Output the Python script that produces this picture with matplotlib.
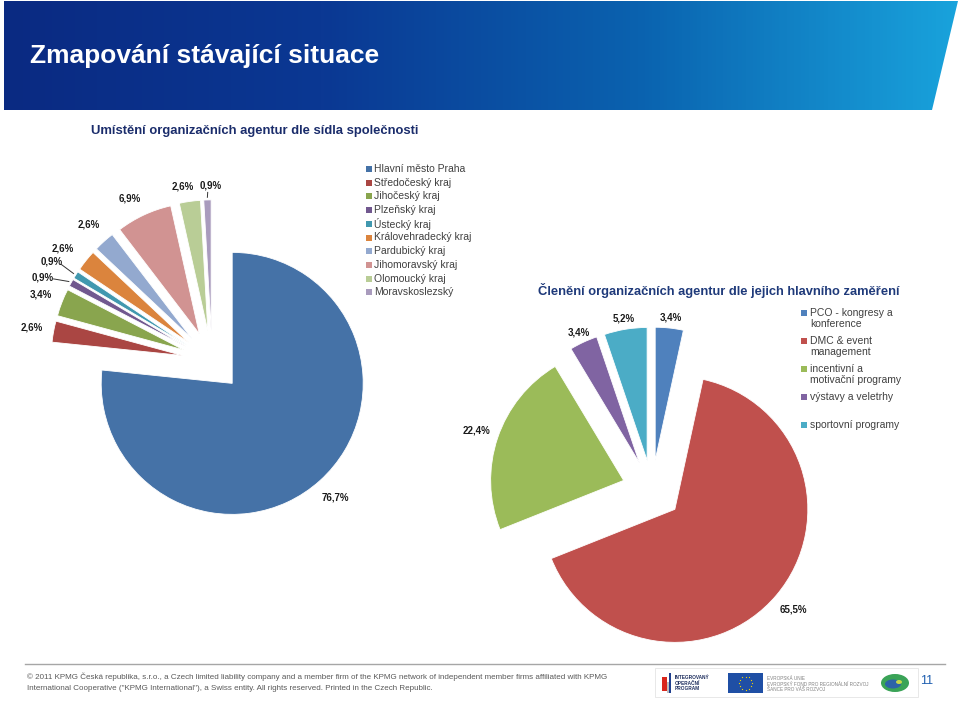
import numpy as np
import matplotlib.pyplot as plt
from matplotlib.patches import Polygon, Rectangle, Ellipse
from matplotlib.colors import LinearSegmentedColormap

plt.rcParams['font.family'] = ['Liberation Sans', 'DejaVu Sans']

# data - kraje
kraje = ['Hlavní město Praha', 'Středočeský kraj', 'Jihočeský kraj', 'Plzeňský kraj',
         'Ústecký kraj', 'Královehradecký kraj', 'Pardubický kraj', 'Jihomoravský kraj',
         'Olomoucký kraj', 'Moravskoslezský']
podil_kraje = [76.7, 2.6, 3.4, 0.9, 0.9, 2.6, 2.6, 6.9, 2.6, 0.9]
barvy_kraje = ['#4572A7', '#AA4643', '#89A54E', '#71588F', '#4198AF',
               '#DB843D', '#93A9CF', '#D19392', '#B9CD96', '#A99BBD']

# data - zamereni
zamereni = ['PCO - kongresy a\nkonference', 'DMC & event\nmanagement',
            'incentivní a\nmotivační programy', 'výstavy a veletrhy\n', 'sportovní programy']
podil_zamereni = [3.4, 65.5, 22.4, 3.4, 5.2]
barvy_zamereni = ['#4F81BD', '#C0504D', '#9BBB59', '#8064A2', '#4BACC6']

# posun popisku v pixelech (jako v excelu, kde se popisky prekryvaly)
posun_kraje = {3: (-9, 6), 4: (-5, -2), 5: (-6, 2), 7: (-5, 4), 8: (-4, 7), 9: (4, 8)}

W, H = 960, 701
fig = plt.figure(figsize=(W / 100, H / 100), dpi=100)
bg = fig.add_axes([0, 0, 1, 1])
bg.axis('off')

# hlavicka - modry pruh s prechodem
cmap = LinearSegmentedColormap.from_list('hdr', ['#0a2a82', '#0b3893', '#0a62af', '#19a3dc'])
grad = np.linspace(0, 1, 256).reshape(1, -1)
im = bg.imshow(grad, cmap=cmap, extent=(4, 958, 110, 1), aspect='auto')
band = Polygon([(4, 1), (958, 1), (932, 110), (4, 110)], closed=True,
               facecolor='none', edgecolor='none')
bg.add_patch(band)
im.set_clip_path(band)
bg.set_xlim(0, W)
bg.set_ylim(H, 0)

bg.text(30, 56, 'Zmapování stávající situace', color='white', fontsize=19,
        fontweight='bold', va='center')
bg.text(91, 131, 'Umístění organizačních agentur dle sídla společnosti', color='#1a2c6b',
        fontsize=9.4, fontweight='bold', va='center')
bg.text(538, 291, 'Členění organizačních agentur dle jejich hlavního zaměření', color='#1f3a7a',
        fontsize=9.3, fontweight='bold', va='center')


def kolac(cx, cy, R, hodnoty, barvy, expl, dist_mala, dist_velka, posun={}):
    half = 220
    ax = fig.add_axes([(cx - half) / W, (H - cy - half) / H, 2 * half / W, 2 * half / H])
    popisky = [('%.1f%%' % v).replace('.', ',') for v in hodnoty]
    wedges, txt = ax.pie(hodnoty, colors=barvy, startangle=90, counterclock=False,
                         explode=[expl] * len(hodnoty), labels=popisky,
                         wedgeprops=dict(edgecolor='white', linewidth=0.6),
                         textprops=dict(fontsize=7, fontweight='bold', color='#1a1a1a'))
    for i, (w, t) in enumerate(zip(wedges, txt)):
        th = np.deg2rad((w.theta1 + w.theta2) / 2)
        d = dist_mala if hodnoty[i] < 10 else dist_velka
        dx, dy = posun.get(i, (0, 0))
        lx = w.center[0] + d * np.cos(th) + dx / R
        ly = w.center[1] + d * np.sin(th) - dy / R
        t.set_position((lx, ly))
        t.set_ha('center')
        t.set_va('center')
        if hodnoty[i] < 1:
            # vodici carka k malym vysecim
            px = w.center[0] + 1.02 * np.cos(th)
            py = w.center[1] + 1.02 * np.sin(th)
            vx, vy = px - lx, py - ly
            n = np.hypot(vx, vy)
            ax.plot([lx + vx / n * 11 / R, px], [ly + vy / n * 7 / R, py], color='#333333', lw=0.7)
    ax.set_xlim(-half / R, half / R)
    ax.set_ylim(-half / R, half / R)
    ax.set_aspect('equal')
    ax.axis('off')
    return ax


kolac(212, 361, 131, podil_kraje, barvy_kraje, 0.23, 1.17, 1.17, posun_kraje)
kolac(652, 490, 133, podil_zamereni, barvy_zamereni, 0.225, 1.08, 1.17)

# legenda 1
for i, (name, c) in enumerate(zip(kraje, barvy_kraje)):
    y = 169 + i * 13.7
    bg.add_patch(Rectangle((366, y - 3), 6, 6, facecolor=c, edgecolor='none'))
    bg.text(374, y, name, fontsize=7.5, color='#404040', va='center')

# legenda 2
y = 313
for name, c in zip(zamereni, barvy_zamereni):
    bg.add_patch(Rectangle((801, y - 3), 6, 6, facecolor=c, edgecolor='none'))
    bg.text(810, y - 5.5, name.rstrip('\n'), fontsize=7.5, color='#404040', va='top',
            linespacing=1.15)
    y += (name.count('\n') + 1) * 12.3 + 3.5

# paticka
bg.plot([25, 945], [664, 664], color='#a6a6a6', lw=1)
bg.text(27, 677, '© 2011 KPMG Česká republika, s.r.o., a Czech limited liability company and a member '
        'firm of the KPMG network of independent member firms affiliated with KPMG',
        fontsize=5.8, color='#595959', va='center')
bg.text(27, 688, 'International Cooperative ("KPMG International"), a Swiss entity. All rights reserved. '
        'Printed in the Czech Republic.', fontsize=5.8, color='#595959', va='center')

bg.add_patch(Rectangle((655, 668), 263, 29, facecolor='none', edgecolor='#e4e4e4', lw=0.6))
bg.add_patch(Rectangle((662, 677), 5, 14, facecolor='#d9261c', edgecolor='none'))
bg.add_patch(Rectangle((667, 682), 2, 11, facecolor='#bdbdbd', edgecolor='none'))
bg.add_patch(Rectangle((669, 673), 2, 20, facecolor='#1f3f8f', edgecolor='none'))
bg.text(675, 683, 'INTEGROVANÝ\nOPERAČNÍ\nPROGRAM', fontsize=3.4, fontweight='bold',
        color='#1f2f5f', va='center', linespacing=1.1)
bg.add_patch(Rectangle((728, 673), 35, 20, facecolor='#1f4fa5', edgecolor='none'))
ang = np.linspace(0, 2 * np.pi, 13)[:-1]
bg.plot(745.5 + 6.5 * np.cos(ang), 683 + 6.5 * np.sin(ang), 'o', color='#f5d300', ms=0.9, mew=0)
bg.text(767, 684, 'EVROPSKÁ UNIE\nEVROPSKÝ FOND PRO REGIONÁLNÍ ROZVOJ\nŠANCE PRO VÁŠ ROZVOJ',
        fontsize=3.3, color='#808080', va='center', linespacing=1.2)
bg.add_patch(Ellipse((895, 683), 28, 18, facecolor='#3aa357', edgecolor='none'))
bg.add_patch(Ellipse((893, 684), 16, 9, facecolor='#2d63a8', edgecolor='none'))
bg.add_patch(Ellipse((899, 682), 6, 4, facecolor='#c8d84a', edgecolor='none'))
bg.text(920, 681, '11', fontsize=9, color='#1f5fb0', va='center')

fig.savefig('out.png', dpi=100)
